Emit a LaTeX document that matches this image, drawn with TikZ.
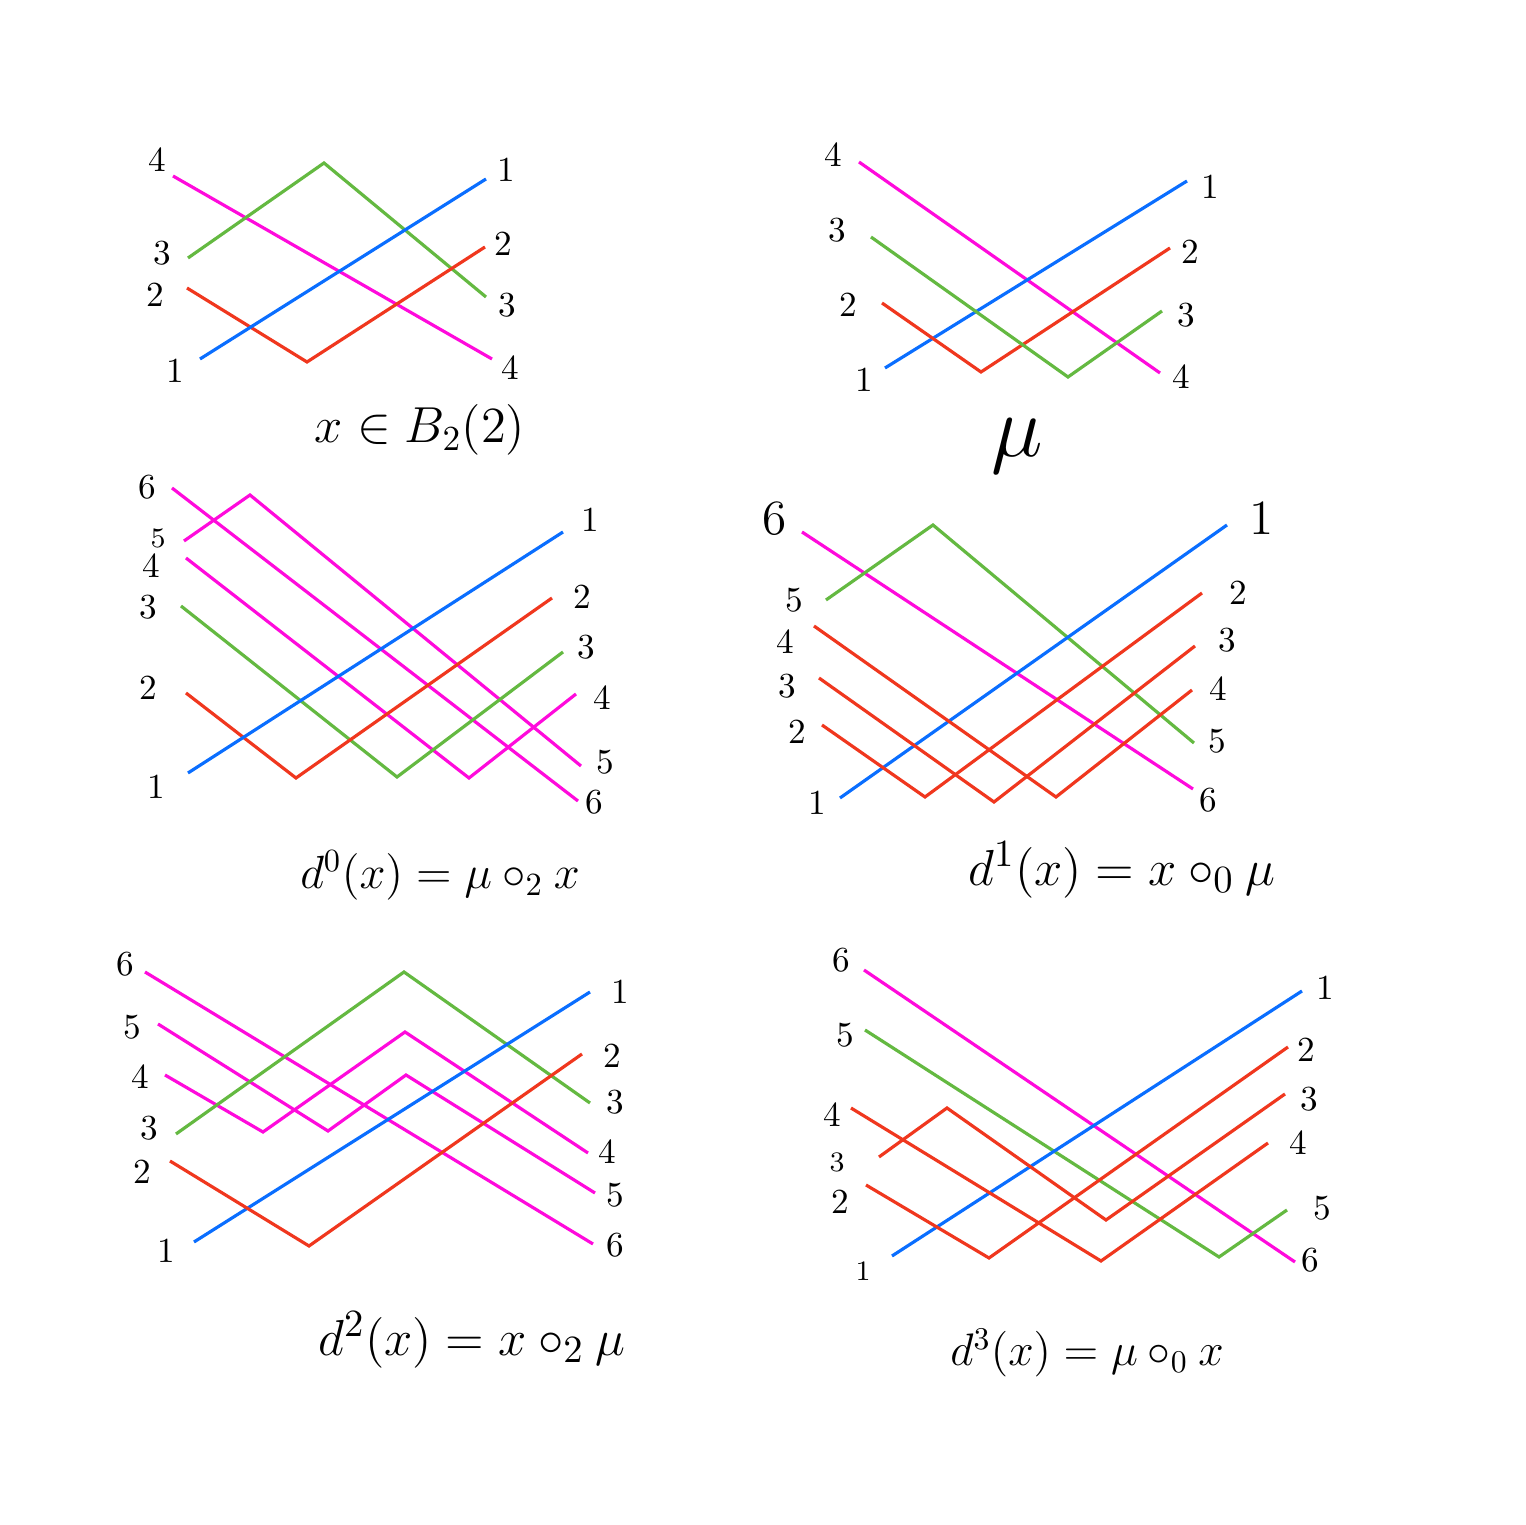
\documentclass[tikz,border=0pt]{standalone}
\usepackage{graphicx}
\definecolor{cB}{RGB}{10,110,255}
\definecolor{cM}{RGB}{255,10,220}
\definecolor{cR}{RGB}{240,55,30}
\definecolor{cG}{RGB}{100,185,65}
\tikzset{
  strand/.style={line width=0.9pt},
  sb/.style={strand,draw=cB},
  sm/.style={strand,draw=cM},
  sr/.style={strand,draw=cR},
  sg/.style={strand,draw=cG},
  lbl/.style={inner sep=0pt,font=\fontsize{10}{12}\selectfont},
  lblS/.style={inner sep=0pt,font=\fontsize{8}{10}\selectfont},
  lblL/.style={inner sep=0pt,font=\fontsize{14}{16}\selectfont},
  captxt/.style={inner sep=0pt,font=\fontsize{14}{16}\selectfont}
}
\begin{document}
\begin{tikzpicture}[x=0.01cm,y=-0.01cm]
\useasboundingbox[fill=white] (0,0) rectangle (1526,1525);

% ---------- Panel 1 : x in B_2(2)
\draw[sm] (173,176) -- (492,359);
\draw[sg] (188,258) -- (324,163) -- (486,297);
\draw[sr] (187,288) -- (307,362) -- (485,247);
\draw[sb] (200,359) -- (486,179);
\node[lbl] (a-l4) at (157,160) {4};
\node[lbl] (a-l3) at (162,253) {3};
\node[lbl] (a-l2) at (155,295) {2};
\node[lbl] (a-l1) at (175,371) {1};
\node[lbl] (a-r1) at (506,170) {1};
\node[lbl] (a-r2) at (503,244) {2};
\node[lbl] (a-r3) at (507,305) {3};
\node[lbl] (a-r4) at (510,368) {4};
\node[captxt] (a-cap) at (420,430) {$x\in B_2(2)$};

% ---------- Panel 2 : mu
\draw[sm] (859,162) -- (1160,373);
\draw[sb] (885,368) -- (1187,181);
\draw[sr] (882,303) -- (981,372) -- (1170,248);
\draw[sg] (871,237) -- (1068,377) -- (1162,311);
\node[lbl] (b-l4) at (833,155) {4};
\node[lbl] (b-l3) at (837,230) {3};
\node[lbl] (b-l2) at (848,305) {2};
\node[lbl] (b-l1) at (864,380) {1};
\node[lbl] (b-r1) at (1210,187) {1};
\node[lbl] (b-r2) at (1190,252) {2};
\node[lbl] (b-r3) at (1186,315) {3};
\node[lbl] (b-r4) at (1181,377) {4};
\node[inner sep=0pt,font=\fontsize{24}{26}\selectfont] (b-cap) at (1017,446) {$\mu$};

% ---------- Panel 3 : d^0
\draw[sm] (172,488) -- (578,801);
\draw[sm] (184,541) -- (250,495) -- (581,766);
\draw[sm] (186,558) -- (469,778) -- (576,694);
\draw[sg] (181,606) -- (397,777) -- (563,652);
\draw[sr] (186,693) -- (296,778) -- (552,598);
\draw[sb] (188,773) -- (563,532);
\node[lbl] (c-l6) at (147,487) {6};
\node[lblS] (c-l5) at (158,538) {5};
\node[lbl] (c-l4) at (151,566) {4};
\node[lbl] (c-l3) at (148,607) {3};
\node[lbl] (c-l2) at (148,688) {2};
\node[lbl] (c-l1) at (156,787) {1};
\node[lbl] (c-r1) at (590,520) {1};
\node[lbl] (c-r2) at (582,597) {2};
\node[lbl] (c-r3) at (586,647) {3};
\node[lbl] (c-r4) at (602,698) {4};
\node[lbl] (c-r5) at (605,762) {5};
\node[lbl] (c-r6) at (594,802) {6};
\node[captxt] (c-cap) at (440,875) {\scalebox{0.92}{$d^0(x)=\mu\circ_2 x$}};

% ---------- Panel 4 : d^1
\draw[sm] (802,532) -- (1193,789);
\draw[sg] (826,600) -- (933,525) -- (1194,743);
\draw[sb] (840,798) -- (1227,525);
\draw[sr] (814,626) -- (1056,797) -- (1192,690);
\draw[sr] (819,678) -- (994,802) -- (1195,646);
\draw[sr] (822,725) -- (925,797) -- (1202,593);
\node[lblL] (d-l6) at (775,519) {6};
\node[lbl] (d-l5) at (794,600) {5};
\node[lbl] (d-l4) at (785,642) {4};
\node[lbl] (d-l3) at (787,686) {3};
\node[lbl] (d-l2) at (797,732) {2};
\node[lbl] (d-l1) at (817,803) {1};
\node[lblL] (d-r1) at (1262,518) {1};
\node[lbl] (d-r2) at (1238,593) {2};
\node[lbl] (d-r3) at (1227,640) {3};
\node[lbl] (d-r4) at (1218,689) {4};
\node[lbl] (d-r5) at (1217,741) {5};
\node[lbl] (d-r6) at (1208,800) {6};
\node[captxt,font=\fontsize{15}{17}\selectfont] (d-cap) at (1122,870) {$d^1(x)=x\circ_0\mu$};

% ---------- Panel 5 : d^2
\draw[sm] (145,972) -- (593,1244);
\draw[sm] (158,1024) -- (328,1131) -- (406,1075) -- (595,1193);
\draw[sm] (165,1075) -- (263,1132) -- (405,1032) -- (588,1153);
\draw[sg] (176,1134) -- (404,972) -- (590,1103);
\draw[sb] (194,1242) -- (590,992);
\draw[sr] (170,1161) -- (309,1246) -- (582,1054);
\node[lbl] (e-l6) at (125,964) {6};
\node[lbl] (e-l5) at (132,1027) {5};
\node[lbl] (e-l4) at (140,1077) {4};
\node[lbl] (e-l3) at (149,1128) {3};
\node[lbl] (e-l2) at (142,1172) {2};
\node[lbl] (e-l1) at (166,1251) {1};
\node[lbl] (e-r1) at (620,992) {1};
\node[lbl] (e-r2) at (612,1056) {2};
\node[lbl] (e-r3) at (615,1102) {3};
\node[lbl] (e-r4) at (607,1152) {4};
\node[lbl] (e-r5) at (615,1195) {5};
\node[lbl] (e-r6) at (615,1245) {6};
\node[captxt,font=\fontsize{15}{17}\selectfont] (e-cap) at (472,1340) {$d^2(x)=x\circ_2\mu$};

% ---------- Panel 6 : d^3
\draw[sm] (864,970) -- (1295,1262);
\draw[sg] (865,1030) -- (1219,1257) -- (1287,1210);
\draw[sb] (892,1256) -- (1302,991);
\draw[sr] (851,1108) -- (1101,1261) -- (1268,1143);
\draw[sr] (879,1157) -- (947,1108) -- (1106,1220) -- (1285,1094);
\draw[sr] (866,1185) -- (989,1258) -- (1288,1047);
\node[lbl] (f-l6) at (841,960) {6};
\node[lbl] (f-l5) at (845,1035) {5};
\node[lbl] (f-l4) at (832,1115) {4};
\node[lblS] (f-l3) at (837,1162) {3};
\node[lbl] (f-l2) at (840,1202) {2};
\node[lblS] (f-l1) at (863,1271) {1};
\node[lbl] (f-r1) at (1325,988) {1};
\node[lbl] (f-r2) at (1306,1050) {2};
\node[lbl] (f-r3) at (1309,1099) {3};
\node[lbl] (f-r4) at (1298,1143) {4};
\node[lbl] (f-r5) at (1322,1208) {5};
\node[lbl] (f-r6) at (1310,1260) {6};
\node[captxt] (f-cap) at (1087,1353) {\scalebox{0.9}{$d^3(x)=\mu\circ_0 x$}};
\end{tikzpicture}
\end{document}
